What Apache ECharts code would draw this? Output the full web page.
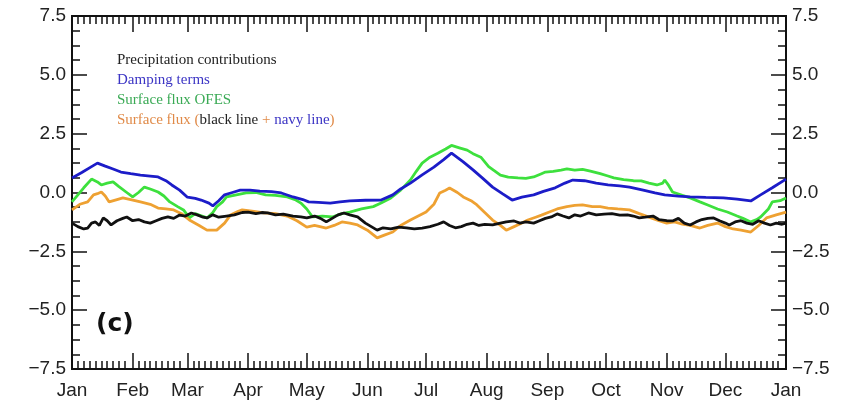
<!DOCTYPE html>
<html>
<head>
<meta charset="utf-8">
<script src="https://cdn.jsdelivr.net/npm/echarts@6/dist/echarts.min.js"></script>
<style>
  html, body { margin: 0; padding: 0; background: #fff; }
  #chart { width: 845px; height: 407px; }
</style>
</head>
<body>
<div id="chart"></div>
<script>
// Day-of-year axis: month starts and their names
const monthStarts = [0, 31, 59, 90, 120, 151, 181, 212, 243, 273, 304, 334, 365];
const monthNames = ['Jan', 'Feb', 'Mar', 'Apr', 'May', 'Jun', 'Jul', 'Aug', 'Sep', 'Oct', 'Nov', 'Dec', 'Jan'];
const yTicks = [-7.5, -5.0, -2.5, 0.0, 2.5, 5.0, 7.5];

// Series as [day, value]
const precipitation = [
  [0,-1.3],[3,-1.45],[6,-1.55],[8,-1.51],[10,-1.3],[12,-1.25],[14,-1.4],[16,-1.08],[18,-1.2],[20,-1.38],
  [23,-1.2],[26,-1.1],[28,-1.04],[31,-1.2],[34,-1.15],[37,-1.25],[40,-1.3],[43,-1.2],[46,-1.1],[49,-1.04],
  [52,-1.1],[55,-0.96],[58,-1.0],[61,-0.87],[64,-0.95],[67,-1.05],[69,-1.08],[72,-0.95],[75,-1.05],[79,-1.0],
  [83,-0.95],[87,-0.85],[90,-0.83],[94,-0.9],[97,-0.85],[100,-0.87],[104,-0.95],[108,-0.92],[113,-1.0],[117,-1.04],
  [120,-1.08],[124,-1.0],[127,-1.1],[130,-1.25],[133,-1.1],[136,-0.95],[139,-0.87],[142,-0.95],[146,-1.04],[150,-1.3],
  [153,-1.45],[156,-1.6],[159,-1.5],[163,-1.55],[167,-1.47],[171,-1.5],[175,-1.55],[179,-1.51],[183,-1.45],[187,-1.35],
  [190,-1.25],[193,-1.4],[196,-1.5],[199,-1.45],[202,-1.35],[205,-1.3],[208,-1.4],[211,-1.35],[215,-1.38],[219,-1.3],
  [222,-1.25],[226,-1.21],[229,-1.3],[232,-1.25],[236,-1.3],[239,-1.2],[242,-1.1],[245,-1.04],[248,-0.91],[251,-1.0],
  [254,-1.08],[257,-0.95],[260,-1.0],[264,-0.87],[268,-0.95],[272,-0.92],[276,-0.9],[280,-0.96],[284,-0.95],[287,-1.0],
  [290,-1.08],[293,-1.05],[297,-1.0],[300,-1.15],[304,-1.2],[307,-1.21],[310,-1.1],[313,-1.3],[316,-1.38],[319,-1.25],
  [322,-1.15],[325,-1.1],[328,-1.08],[331,-1.2],[334,-1.3],[336,-1.38],[339,-1.25],[342,-1.2],[345,-1.3],[348,-1.35],
  [351,-1.2],[354,-1.3],[357,-1.38],[360,-1.3],[363,-1.35],[365,-1.3]
];

const damping = [
  [0,0.62],[5,0.85],[10,1.1],[13,1.25],[17,1.12],[21,1.0],[25,0.87],[30,0.8],[35,0.74],[40,0.7],
  [44,0.66],[48,0.5],[51,0.32],[55,0.1],[59,-0.2],[63,-0.25],[66,-0.32],[70,-0.45],[72,-0.57],[75,-0.35],
  [78,-0.1],[82,0.0],[86,0.1],[91,0.1],[96,0.06],[102,0.04],[107,-0.02],[113,-0.19],[118,-0.3],[121,-0.4],
  [126,-0.42],[132,-0.45],[137,-0.4],[142,-0.36],[150,-0.33],[158,-0.32],[164,-0.1],[168,0.15],[173,0.4],[179,0.75],
  [185,1.08],[190,1.4],[194,1.67],[200,1.3],[205,0.96],[210,0.6],[215,0.23],[220,-0.05],[225,-0.32],[230,-0.2],
  [236,-0.1],[241,0.05],[247,0.2],[252,0.4],[256,0.53],[262,0.5],[268,0.4],[274,0.32],[280,0.28],[285,0.23],
  [292,0.1],[298,-0.02],[303,-0.1],[310,-0.15],[316,-0.19],[324,-0.21],[333,-0.23],[340,-0.28],[347,-0.36],[352,-0.1],
  [358,0.2],[365,0.57]
];

const surfaceFluxOFES = [
  [0,-0.4],[3,-0.1],[6,0.2],[10,0.57],[13,0.45],[15,0.32],[18,0.4],[21,0.45],[24,0.25],[28,0.0],
  [31,-0.19],[34,0.0],[37,0.23],[40,0.15],[44,0.02],[47,-0.15],[50,-0.4],[54,-0.6],[57,-0.74],[60,-1.08],
  [63,-0.9],[65,-0.96],[69,-1.08],[72,-0.85],[74,-0.6],[77,-0.4],[79,-0.19],[84,-0.1],[89,-0.02],[94,0.0],
  [99,-0.1],[104,-0.12],[110,-0.19],[114,-0.3],[117,-0.45],[120,-0.7],[123,-1.04],[128,-1.0],[133,-1.04],[138,-0.9],
  [142,-0.83],[148,-0.7],[154,-0.6],[158,-0.45],[163,-0.23],[168,0.1],[173,0.53],[176,0.9],[179,1.25],[183,1.5],
  [187,1.67],[191,1.85],[194,2.0],[198,1.9],[202,1.8],[205,1.65],[209,1.5],[213,1.1],[219,0.74],[223,0.65],
  [228,0.62],[232,0.6],[236,0.66],[240,0.8],[242,0.87],[246,0.9],[250,0.95],[253,1.0],[257,0.95],[261,0.98],
  [265,0.91],[270,0.8],[274,0.7],[277,0.62],[282,0.55],[287,0.5],[291,0.49],[295,0.4],[299,0.32],[302,0.4],
  [303,0.53],[305,0.3],[307,0.02],[312,-0.12],[316,-0.23],[321,-0.4],[325,-0.53],[330,-0.7],[335,-0.83],[340,-1.0],
  [343,-1.1],[347,-1.25],[350,-1.15],[352,-1.04],[356,-0.7],[358,-0.4],[362,-0.35],[365,-0.23]
];

const surfaceFluxSum = [
  [0,-0.74],[4,-0.5],[8,-0.4],[11,-0.1],[13,-0.05],[15,0.02],[17,-0.15],[19,-0.4],[23,-0.3],[26,-0.23],
  [30,-0.3],[35,-0.4],[40,-0.5],[44,-0.66],[48,-0.7],[52,-0.74],[56,-0.9],[60,-1.17],[65,-1.4],[69,-1.6],
  [74,-1.6],[78,-1.3],[81,-0.96],[85,-0.8],[87,-0.74],[93,-0.8],[98,-0.87],[104,-0.9],[110,-1.0],[115,-1.2],
  [120,-1.47],[124,-1.4],[130,-1.51],[134,-1.4],[138,-1.25],[142,-1.3],[146,-1.38],[151,-1.6],[156,-1.93],[160,-1.8],
  [164,-1.68],[168,-1.4],[173,-1.17],[177,-1.0],[181,-0.83],[185,-0.5],[188,-0.02],[191,0.1],[193,0.19],[197,0.0],
  [200,-0.19],[204,-0.35],[207,-0.53],[211,-0.85],[215,-1.17],[219,-1.4],[222,-1.6],[226,-1.45],[230,-1.3],[233,-1.17],
  [237,-1.05],[240,-0.96],[244,-0.83],[248,-0.7],[253,-0.6],[257,-0.55],[261,-0.53],[266,-0.6],[270,-0.6],[274,-0.66],
  [279,-0.7],[285,-0.74],[290,-0.9],[296,-1.08],[300,-1.2],[304,-1.3],[308,-1.25],[312,-1.34],[316,-1.4],[321,-1.51],
  [325,-1.4],[330,-1.3],[334,-1.45],[338,-1.55],[342,-1.6],[347,-1.68],[351,-1.4],[355,-1.08],[360,-0.95],[365,-0.83]
];

// Minor x ticks every 3 days inside each month
const minorDays = [];
for (let m = 0; m < 12; m++) {
  for (let d = monthStarts[m] + 3; d < monthStarts[m + 1] - 1; d += 3) minorDays.push(d);
}

const AXIS = '#111';
const labelFont = { fontFamily: 'Liberation Sans', fontSize: 19, color: '#222' };

function xAxisDef(position, ticks, len, withLabels) {
  return {
    type: 'value', min: 0, max: 365, position: position,
    axisLine: { show: true, onZero: false, lineStyle: { color: AXIS, width: 2 } },
    axisTick: { show: true, inside: true, length: len, customValues: ticks, lineStyle: { color: AXIS, width: 1.5 } },
    axisLabel: withLabels ? Object.assign({
      show: true, margin: 12, customValues: monthStarts,
      formatter: v => monthNames[monthStarts.indexOf(v)]
    }, labelFont) : { show: false },
    splitLine: { show: false }
  };
}

function yAxisDef(position) {
  return {
    type: 'value', min: -7.5, max: 7.5, interval: 2.5, position: position,
    axisLine: { show: true, onZero: false, lineStyle: { color: AXIS, width: 2 } },
    axisTick: { show: true, inside: true, length: 15, lineStyle: { color: AXIS, width: 1.5 } },
    minorTick: { show: true, splitNumber: 4, length: 8, lineStyle: { color: AXIS, width: 1.5 } },
    axisLabel: Object.assign({
      margin: 6,
      formatter: v => (v < 0 ? '\u2212' : '') + Math.abs(v).toFixed(1)
    }, labelFont),
    splitLine: { show: false }
  };
}

function lineSeries(name, data, color) {
  return {
    name: name, type: 'line', data: data, xAxisIndex: 0, yAxisIndex: 0,
    showSymbol: false, smooth: false, silent: true,
    lineStyle: { color: color, width: 2.8 }
  };
}

const legendFont = { fontFamily: 'Liberation Serif', fontSize: 15, lineHeight: 20 };

const chart = echarts.init(document.getElementById('chart'), null, { renderer: 'canvas' });
chart.setOption({
  backgroundColor: '#fff',
  animation: false,
  grid: { left: 72, right: 59, top: 16, bottom: 38, containLabel: false },
  xAxis: [
    xAxisDef('bottom', monthStarts, 16, true),
    xAxisDef('bottom', minorDays, 8, false),
    xAxisDef('top', monthStarts, 16, false),
    xAxisDef('top', minorDays, 8, false)
  ],
  yAxis: [yAxisDef('left'), yAxisDef('right')],
  series: [
    lineSeries('Surface flux OFES', surfaceFluxOFES, '#3de03d'),
    lineSeries('Surface flux (black line + navy line)', surfaceFluxSum, '#eea132'),
    lineSeries('Precipitation contributions', precipitation, '#111111'),
    lineSeries('Damping terms', damping, '#1c1cc8')
  ],
  graphic: [
    {
      type: 'text', left: 117, top: 50,
      style: Object.assign({
        text: '{k|Precipitation contributions}\n{n|Damping terms}\n{g|Surface flux OFES}\n{o|Surface flux (}{k|black line}{o| + }{n|navy line}{o|)}',
        rich: {
          k: Object.assign({ fill: '#222222' }, legendFont),
          n: Object.assign({ fill: '#3b34c4' }, legendFont),
          g: Object.assign({ fill: '#3aaa55' }, legendFont),
          o: Object.assign({ fill: '#e08a48' }, legendFont)
        }
      }, legendFont)
    },
    {
      type: 'text', left: 96, top: 312,
      style: { text: '(c)', fontFamily: 'DejaVu Sans', fontWeight: 'bold', fontSize: 25, fill: '#111' }
    }
  ]
});
</script>
</body>
</html>
